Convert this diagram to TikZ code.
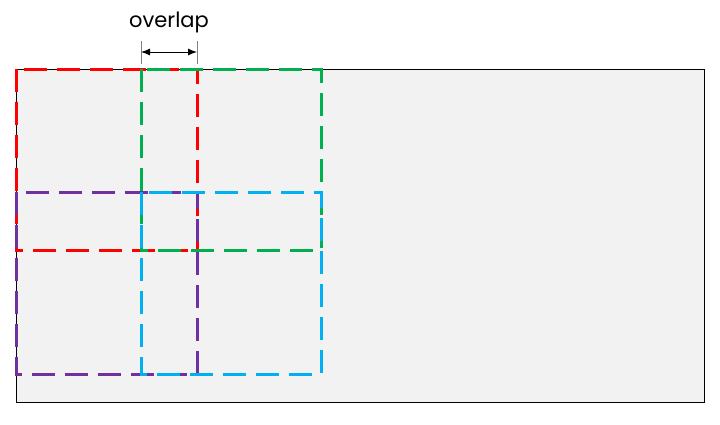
\documentclass[tikz,border=0pt]{standalone}
\usepackage{fontspec}
\setmainfont{Poppins}
\usepackage{tikz}
\usetikzlibrary{calc}
\usetikzlibrary{positioning}
\usetikzlibrary{arrows.meta}

\definecolor{tilered}{HTML}{FF0000}
\definecolor{tilegreen}{HTML}{00B050}
\definecolor{tilepurple}{HTML}{7030A0}
\definecolor{tileblue}{HTML}{00B0F0}
\definecolor{sheetgray}{HTML}{F2F2F2}

\begin{document}
\begin{tikzpicture}[x=1pt, y=-1pt,
		tile/.style={line width=3pt, dash pattern=on 23pt off 10pt},
		tick/.style={draw=gray, line width=1pt},
		span/.style={line width=0.9pt, {Latex[length=9pt,width=7pt]}-{Latex[length=9pt,width=7pt]}}]
				\useasboundingbox (0,0) rectangle (720,424);
				\node[draw, line width=1.2pt, fill=sheetgray, minimum width=688pt, minimum height=333pt, inner sep=0pt, anchor=north west] (sheet) at (16,69) {};
				
				\draw[tile, tilered]    (16,69) rectangle (197,250);
				\draw[tile, tilegreen]  (141,69) rectangle (321,250);
				\draw[tile, tilepurple] (16,192) rectangle (197,374);
				\draw[tile, tileblue]   (141,192) rectangle (321,374);
				
				\coordinate (a) at (141,52);
				\coordinate (b) at (197,52);
				\draw[tick] (141,41) -- (141,64);
				\draw[tick] (197,41) -- (197,64);
				\draw[span] (a) -- (b);
				\node[font=\fontsize{21}{24}\selectfont] (lbl) at (169,22) {overlap};
			\end{tikzpicture}
\end{document}
